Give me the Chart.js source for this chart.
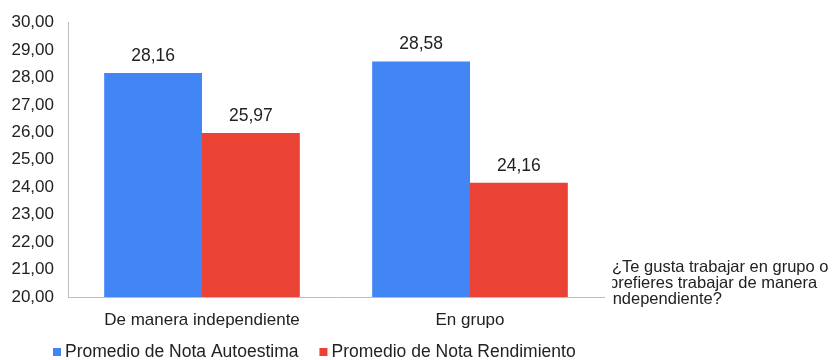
<!DOCTYPE html>
<html>
<head>
<meta charset="utf-8">
<script src="https://cdn.jsdelivr.net/npm/chart.js@4/dist/chart.umd.min.js"></script>
<style>
  html, body { margin: 0; padding: 0; background: #fff; }
  #wrap { width: 835px; height: 360px; }
</style>
</head>
<body>
<div id="wrap"><canvas id="chart" width="835" height="360"></canvas></div>
<script>
// Datos
const categorias = ['De manera independiente', 'En grupo'];
const notaAutoestima = [28.16, 28.58];
const notaRendimiento = [25.97, 24.16];
const seriesNombres = ['Promedio de Nota Autoestima', 'Promedio de Nota Rendimiento'];
const seriesColores = ['#4285f4', '#ea4335'];
const preguntaLineas = ['¿Te gusta trabajar en grupo o', 'prefieres trabajar de manera', 'independiente?'];

const FUENTE = '"Liberation Sans", Arial, sans-serif';
const fmt = v => v.toFixed(2).replace('.', ',');

// etiquetas de valor encima de cada barra
const etiquetasValor = {
    id: 'etiquetasValor',
    afterDatasetsDraw(chart) {
        const ctx = chart.ctx;
        ctx.save();
        ctx.font = '17.5px ' + FUENTE;
        ctx.fillStyle = '#222';
        ctx.textAlign = 'center';
        ctx.textBaseline = 'alphabetic';
        chart.data.datasets.forEach((ds, i) => {
            chart.getDatasetMeta(i).data.forEach((bar, j) => {
                ctx.fillText(fmt(ds.data[j]), bar.x, bar.y - 12);
            });
        });
        ctx.restore();
    }
};

// leyenda abajo, cuadrito pequeño pegado al texto
const leyenda = {
    id: 'leyenda',
    afterDraw(chart) {
        const ctx = chart.ctx;
        ctx.save();
        ctx.font = '17.5px ' + FUENTE;
        ctx.textBaseline = 'middle';
        ctx.textAlign = 'left';
        let x = 53;
        const y = 352;
        chart.data.datasets.forEach(ds => {
            ctx.fillStyle = ds.backgroundColor;
            ctx.fillRect(x, y - 4, 8, 8);
            ctx.fillStyle = '#222';
            ctx.fillText(ds.label, x + 12, y);
            x += 12 + ctx.measureText(ds.label).width + 21;
        });
        ctx.restore();
    }
};

// texto de la pregunta a la derecha
const textoPregunta = {
    id: 'textoPregunta',
    afterDraw(chart) {
        const ctx = chart.ctx;
        ctx.save();
        ctx.beginPath();
        ctx.rect(612, 250, 223, 60);
        ctx.clip();
        ctx.font = '16.5px ' + FUENTE;
        ctx.fillStyle = '#222';
        ctx.textAlign = 'left';
        ctx.textBaseline = 'middle';
        preguntaLineas.forEach((linea, i) => {
            ctx.fillText(linea, i === 0 ? 612 : 609, 267 + i * 16);
        });
        ctx.restore();
    }
};

new Chart(document.getElementById('chart'), {
    type: 'bar',
    data: {
        labels: categorias,
        datasets: [
            { label: seriesNombres[0], data: notaAutoestima, backgroundColor: seriesColores[0] },
            { label: seriesNombres[1], data: notaRendimiento, backgroundColor: seriesColores[1] }
        ]
    },
    options: {
        responsive: false,
        animation: false,
        layout: { padding: { left: 0, right: 231, top: 7, bottom: 30 } },
        categoryPercentage: 0.73,
        barPercentage: 1.0,
        scales: {
            x: {
                grid: { display: false, drawTicks: false },
                border: { display: true, color: '#bdbdbd' },
                ticks: { color: '#222', font: { family: FUENTE, size: 17 }, padding: 13 },
                afterFit(scale) { scale.height = 33; }
            },
            y: {
                min: 20,
                max: 30,
                grid: { display: false, drawTicks: false },
                border: { display: true, color: '#bdbdbd' },
                ticks: {
                    stepSize: 1,
                    color: '#222',
                    font: { family: FUENTE, size: 17, lineHeight: 1 },
                    padding: 14,
                    callback: v => fmt(v)
                },
                afterFit(scale) { scale.width = 68; }
            }
        },
        plugins: {
            legend: { display: false },
            tooltip: { enabled: false }
        }
    },
    plugins: [etiquetasValor, leyenda, textoPregunta]
});
</script>
</body>
</html>
